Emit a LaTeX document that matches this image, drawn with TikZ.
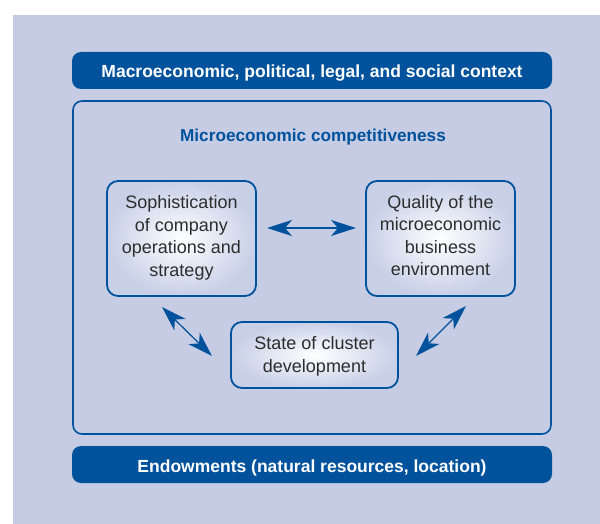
\documentclass[tikz,border=0pt]{standalone}
\usepackage{fontspec}
\setmainfont{Liberation Sans}
\usetikzlibrary{arrows.meta,shapes.misc}
\definecolor{bgblue}{RGB}{197,204,228}
\definecolor{darkblue}{RGB}{0,82,156}
\definecolor{boxedge}{RGB}{200,208,232}
\definecolor{textgray}{RGB}{45,45,45}
\tikzset{
  bar/.style={fill=darkblue, draw=none, rounded corners=9pt},
  bartext/.style={anchor=base, text=white, font=\fontsize{17.5}{21}\selectfont\bfseries},
  innerframe/.style={draw=darkblue, line width=1.6pt, rounded corners=9pt},
  factor/.style={draw=darkblue, line width=1.8pt, rounded corners=11pt,
    inner color=white, outer color=boxedge},
  factortext/.style={anchor=base, align=center, text=textgray,
    font=\fontsize{18}{22.5}\selectfont},
  link/.style={draw=darkblue, line width=1.2pt,
    {Stealth[length=25pt,width=16pt,inset=7pt]}-{Stealth[length=25pt,width=16pt,inset=7pt]}},
}
\begin{document}
\begin{tikzpicture}[x=1pt,y=-1pt]
\useasboundingbox (0,0) rectangle (600,524);
\fill[bgblue] (13,15) rectangle (600,524);
% bars
\path[bar] (72,52) rectangle (552,89);
\node[bartext] (macro) at (312,78) {Macroeconomic, political, legal, and social context};
\path[bar] (72,446) rectangle (552,483);
\node[bartext] (endow) at (312,472) {Endowments (natural resources, location)};
% inner frame
\draw[innerframe] (73,101) rectangle (551,434);
\node[anchor=base, text=darkblue, font=\fontsize{17.2}{21}\selectfont\bfseries] (micro) at (313,142) {Microeconomic competitiveness};
% factor boxes
\node[factor, minimum width=149pt, minimum height=115pt] (soph) at (181.5,238.5) {};
\node[factor, minimum width=149pt, minimum height=115pt] (qual) at (440.5,238.5) {};
\node[factor, minimum width=167pt, minimum height=66pt] (clust) at (314.5,355) {};
\node[factortext] (sophT) at ([yshift=-37.5pt]soph.center)
  {Sophistication\\of company\\operations and\\strategy};
\node[factortext] (qualT) at ([yshift=-37pt]qual.center)
  {Quality of the\\microeconomic\\business\\environment};
\node[factortext] (clustT) at ([yshift=-17pt]clust.center)
  {State of cluster\\development};
% connectors
\coordinate (hA) at (267,228);
\coordinate (hB) at (356,228);
\coordinate (lA) at (162,307);
\coordinate (lB) at (212,356);
\coordinate (rA) at (416,356);
\coordinate (rB) at (466,306);
\draw[link] (hA) -- (hB);
\draw[link] (lA) -- (lB);
\draw[link] (rA) -- (rB);
\end{tikzpicture}
\end{document}
